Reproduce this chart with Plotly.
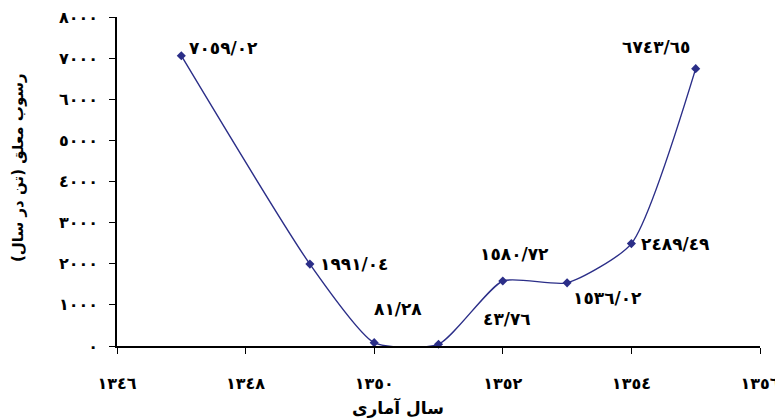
import plotly.graph_objects as go

years = [1347, 1349, 1350, 1351, 1352, 1353, 1354, 1355]
sediment = [7059.02, 1991.04, 81.28, 43.76, 1580.72, 1536.02, 2489.49, 6743.65]
point_labels = ["٧٠٥٩/٠٢", "١٩٩١/٠٤", "٨١/٢٨", "٤٣/٧٦", "١٥٨٠/٧٢", "١٥٣٦/٠٢", "٢٤٨٩/٤٩", "٦٧٤٣/٦٥"]
label_dx = [42, 44, 24, 68, 12, 40, 44, -40]
label_dy = [8, 0, 34, 25, 27, -15, 0, 22]

x_ticks = [1346, 1348, 1350, 1352, 1354, 1356]
x_ticktext = ["١٣٤٦", "١٣٤٨", "١٣٥٠", "١٣٥٢", "١٣٥٤", "١٣٥٦"]
y_ticks = [0, 1000, 2000, 3000, 4000, 5000, 6000, 7000, 8000]
y_ticktext = ["٠", "١٠٠٠", "٢٠٠٠", "٣٠٠٠", "٤٠٠٠", "٥٠٠٠", "٦٠٠٠", "٧٠٠٠", "٨٠٠٠"]

x_title = "سال آماری"
y_title = "رسوب معلق (تن در سال)"

color = "#2B2E88"
font = "DejaVu Sans"

fig = go.Figure()
fig.add_trace(go.Scatter(
    x=years, y=sediment, mode="lines+markers",
    line=dict(color=color, width=1.4, shape="spline", smoothing=0.6),
    marker=dict(symbol="diamond", size=7, color=color),
    cliponaxis=False, showlegend=False, hoverinfo="skip",
))

annotations = []
for xv, yv, t, dx, dy in zip(years, sediment, point_labels, label_dx, label_dy):
    annotations.append(dict(x=xv, y=yv, text=t, showarrow=False, xshift=dx, yshift=dy,
                            font=dict(family=font, size=17, color="black", weight="bold")))
annotations.append(dict(xref="paper", yref="paper", x=0.437, y=-0.188, text=x_title,
                        xanchor="center", yanchor="middle",
                        showarrow=False, font=dict(family=font, size=17, color="black", weight="bold")))
annotations.append(dict(xref="paper", yref="paper", x=-0.154, y=0.544, text=y_title,
                        xanchor="center", yanchor="middle",
                        textangle=-90, showarrow=False, font=dict(family=font, size=15, color="black", weight="bold")))

fig.update_layout(
    width=775, height=419,
    margin=dict(l=117, r=15, t=17, b=73),
    paper_bgcolor="white", plot_bgcolor="white",
    annotations=annotations,
    xaxis=dict(range=[1346, 1356], tickvals=x_ticks, ticktext=x_ticktext,
               showline=True, linecolor="black", linewidth=1.5, ticks="outside",
               ticklen=6, tickcolor="black", showgrid=False, zeroline=False,
               ticklabelstandoff=16, ticklabeloverflow="allow", automargin=False,
               tickfont=dict(family=font, size=16, color="black", weight="bold")),
    yaxis=dict(range=[0, 8000], tickvals=y_ticks, ticktext=y_ticktext,
               showline=True, linecolor="black", linewidth=1.5, ticks="outside",
               ticklen=6, tickcolor="black", showgrid=False, zeroline=False,
               ticklabelstandoff=8, automargin=False,
               tickfont=dict(family=font, size=16, color="black", weight="bold")),
)

fig.write_html("out.html", config={"displayModeBar": False},
               post_script="document.body.style.margin='0';document.body.style.overflow='hidden';")
